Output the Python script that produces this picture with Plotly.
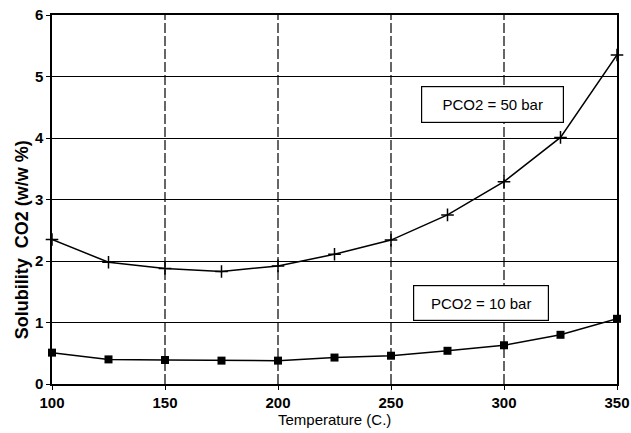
import plotly.graph_objects as go

temps = [100, 125, 150, 175, 200, 225, 250, 275, 300, 325, 350]
sol_50bar = [2.35, 1.98, 1.88, 1.83, 1.92, 2.11, 2.34, 2.75, 3.29, 4.01, 5.35]
sol_10bar = [0.51, 0.40, 0.39, 0.38, 0.38, 0.43, 0.46, 0.54, 0.63, 0.80, 1.06]
x_ticks = [100, 150, 200, 250, 300, 350]
y_ticks = [0, 1, 2, 3, 4, 5, 6]
label_50 = "PCO2 = 50 bar"
label_10 = "PCO2 = 10 bar"
x_title = "Temperature (C.)"
y_title = "Solubility  CO2 (w/w %)"

FONT = "Liberation Sans, Arial, sans-serif"

fig = go.Figure()
fig.add_trace(go.Scatter(
    x=temps, y=sol_50bar, mode="lines+markers",
    line=dict(color="black", width=1.5),
    marker=dict(symbol="cross-thin", size=9, line=dict(color="black", width=1.5)),
    showlegend=False, cliponaxis=False))
fig.add_trace(go.Scatter(
    x=temps, y=sol_10bar, mode="lines+markers",
    line=dict(color="black", width=1.5),
    marker=dict(symbol="square", size=8, color="black"),
    showlegend=False, cliponaxis=False))

# vertical dashed gridlines
for xv in x_ticks[1:-1]:
    fig.add_shape(type="line", xref="x", yref="paper", x0=xv, x1=xv, y0=0, y1=1,
                  line=dict(color="black", width=1.2, dash="10px,3px"), layer="below")

fig.add_annotation(x=295, y=4.54, text=label_50, showarrow=False,
                   font=dict(family=FONT, size=15, color="black"),
                   bgcolor="white", bordercolor="black", borderwidth=1.2,
                   width=139, height=33)
fig.add_annotation(x=290, y=1.32, text=label_10, showarrow=False,
                   font=dict(family=FONT, size=15, color="black"),
                   bgcolor="white", bordercolor="black", borderwidth=1.2,
                   width=132, height=32)

# axis titles
fig.add_annotation(xref="paper", yref="paper", x=0.5, y=-0.095, text=x_title,
                   showarrow=False, xanchor="center", yanchor="middle",
                   font=dict(family=FONT, size=15, color="black"))
fig.add_annotation(xref="paper", yref="paper", x=-0.053, y=0.39, text=y_title,
                   showarrow=False, xanchor="center", yanchor="middle", textangle=-90,
                   font=dict(family=FONT, size=18, color="black", weight="bold"))

fig.update_layout(
    width=631, height=433,
    margin=dict(l=52, r=14, t=15, b=49),
    paper_bgcolor="white", plot_bgcolor="white",
    font=dict(family=FONT, color="black"),
)
fig.update_xaxes(
    range=[100, 350], tickvals=x_ticks, ticktext=[str(v) for v in x_ticks],
    showgrid=False, zeroline=False, automargin=False,
    showline=True, linecolor="black", linewidth=1.5, mirror=True,
    ticks="outside", ticklen=4, tickcolor="black",
    ticklabeloverflow="allow",
    tickfont=dict(family=FONT, size=15, color="black", weight="bold"),
)
fig.update_yaxes(
    range=[0, 6], tickvals=y_ticks, ticktext=[str(v) for v in y_ticks],
    showgrid=True, gridcolor="black", gridwidth=1.2, zeroline=False, automargin=False,
    showline=True, linecolor="black", linewidth=1.5, mirror=True,
    ticks="outside", ticklen=4, tickcolor="black",
    ticklabeloverflow="allow",
    tickfont=dict(family=FONT, size=15, color="black", weight="bold"),
)

fig.write_html("out.html", config={"displayModeBar": False},
               post_script="document.body.style.margin='0';document.body.style.overflow='hidden';")
